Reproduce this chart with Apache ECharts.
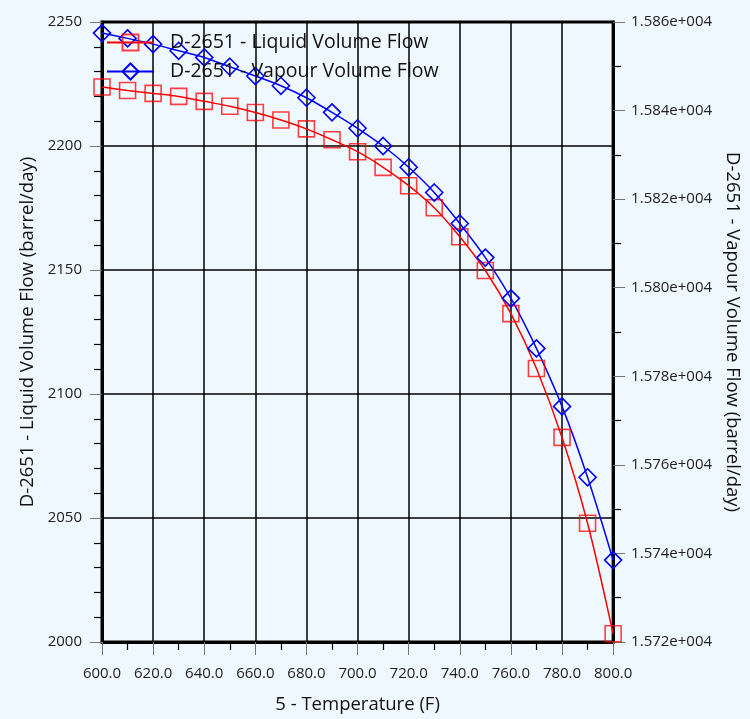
<!DOCTYPE html>
<html><head><meta charset="utf-8">
<script src="https://cdn.jsdelivr.net/npm/echarts@6/dist/echarts.min.js"></script>
<style>html,body{margin:0;padding:0;background:#F0F8FF}#c{width:750px;height:719px}</style>
</head><body><div id="c"></div>
<script>
const temps = [600,610,620,630,640,650,660,670,680,690,700,710,720,730,740,750,760,770,780,790,800];
const liquidFlow = [2223.8,2222.4,2221.2,2220.0,2218.0,2216.0,2213.5,2210.5,2206.9,2202.5,2197.7,2191.4,2184.0,2175.1,2163.4,2149.8,2132.4,2110.3,2082.5,2047.9,2003.3];
const vapourFlow = [15857.5,15856.3,15855.0,15853.5,15852.0,15849.9,15847.8,15845.6,15842.9,15839.6,15836.0,15832.0,15827.2,15821.5,15814.5,15806.8,15797.6,15786.3,15773.2,15757.2,15738.5];
const liquidName = 'D-2651 - Liquid Volume Flow';
const vapourName = 'D-2651 - Vapour Volume Flow';
const xName = '5 - Temperature (F)';
const leftName = 'D-2651 - Liquid Volume Flow (barrel/day)';
const rightName = 'D-2651 - Vapour Volume Flow (barrel/day)';

const chart = echarts.init(document.getElementById('c'));
const font = 'Open Sans';
const nameStyle = {fontSize: 18.5, color: '#111', fontFamily: font};
chart.setOption({
  backgroundColor: '#F0F8FF',
  animation: false,
  textStyle: {fontFamily: font},
  grid: {left: 102, right: 129, top: 22, bottom: 76, show: true, borderColor: '#000', borderWidth: 3, backgroundColor: '#F0F8FF'},
  legend: {
    left: 101, top: 27, orient: 'vertical', itemWidth: 47, itemHeight: 20, itemGap: 8,
    textStyle: {fontSize: 19.5, lineHeight: 21, color: '#111', fontFamily: font, padding: [0, 0, 0, 11]},
    data: [liquidName, vapourName]
  },
  xAxis: {
    type: 'value', min: 600, max: 800, interval: 20,
    name: xName, nameLocation: 'middle', nameGap: 53,
    nameTextStyle: nameStyle,
    axisLine: {lineStyle: {color: '#000', width: 3}},
    axisTick: {show: true, length: 13, lineStyle: {color: '#777', width: 1}},
    minorTick: {show: true, splitNumber: 2, length: 8, lineStyle: {color: '#000', width: 1.2}},
    splitLine: {show: true, lineStyle: {color: '#000', width: 1.5}},
    axisLabel: {margin: 24, fontSize: 15, color: '#222', formatter: v => v.toFixed(1)}
  },
  yAxis: [{
    type: 'value', min: 2000, max: 2250, interval: 50, position: 'left',
    name: leftName, nameLocation: 'middle', nameGap: 62, nameRotate: 90,
    nameTextStyle: nameStyle,
    axisLine: {show: true, lineStyle: {color: '#000', width: 3}},
    axisTick: {show: true, length: 12, lineStyle: {color: '#777', width: 1}},
    minorTick: {show: true, splitNumber: 5, length: 8, lineStyle: {color: '#000', width: 1.2}},
    splitLine: {show: true, lineStyle: {color: '#000', width: 1.5}},
    axisLabel: {margin: 20, fontSize: 15, color: '#222', formatter: v => String(v)}
  }, {
    type: 'value', min: 15720, max: 15860, interval: 20, position: 'right',
    name: rightName, nameLocation: 'middle', nameGap: 108, nameRotate: -90,
    nameTextStyle: nameStyle,
    axisLine: {show: true, lineStyle: {color: '#000', width: 3}},
    axisTick: {show: true, length: 12, lineStyle: {color: '#777', width: 1}},
    minorTick: {show: true, splitNumber: 2, length: 8, lineStyle: {color: '#000', width: 1.2}},
    splitLine: {show: false},
    axisLabel: {margin: 18, fontSize: 15, color: '#222', formatter: v => (v / 1e4).toFixed(3) + 'e+004'}
  }],
  series: [{
    name: liquidName, type: 'line', yAxisIndex: 0, smooth: 0.3,
    data: temps.map((t, i) => [t, liquidFlow[i]]),
    symbol: 'rect', symbolSize: 16,
    itemStyle: {borderColor: 'rgba(255,0,0,0.75)', borderWidth: 1.6, color: 'rgba(0,0,0,0)'},
    lineStyle: {color: '#FF0000', width: 1.5}
  }, {
    name: vapourName, type: 'line', yAxisIndex: 1, smooth: 0.3,
    data: temps.map((t, i) => [t, vapourFlow[i]]),
    symbol: 'diamond', symbolSize: 17,
    itemStyle: {borderColor: '#0000FF', borderWidth: 1.6, color: 'rgba(0,0,0,0)'},
    lineStyle: {color: '#0000FF', width: 1.5}
  }]
});
</script></body></html>
